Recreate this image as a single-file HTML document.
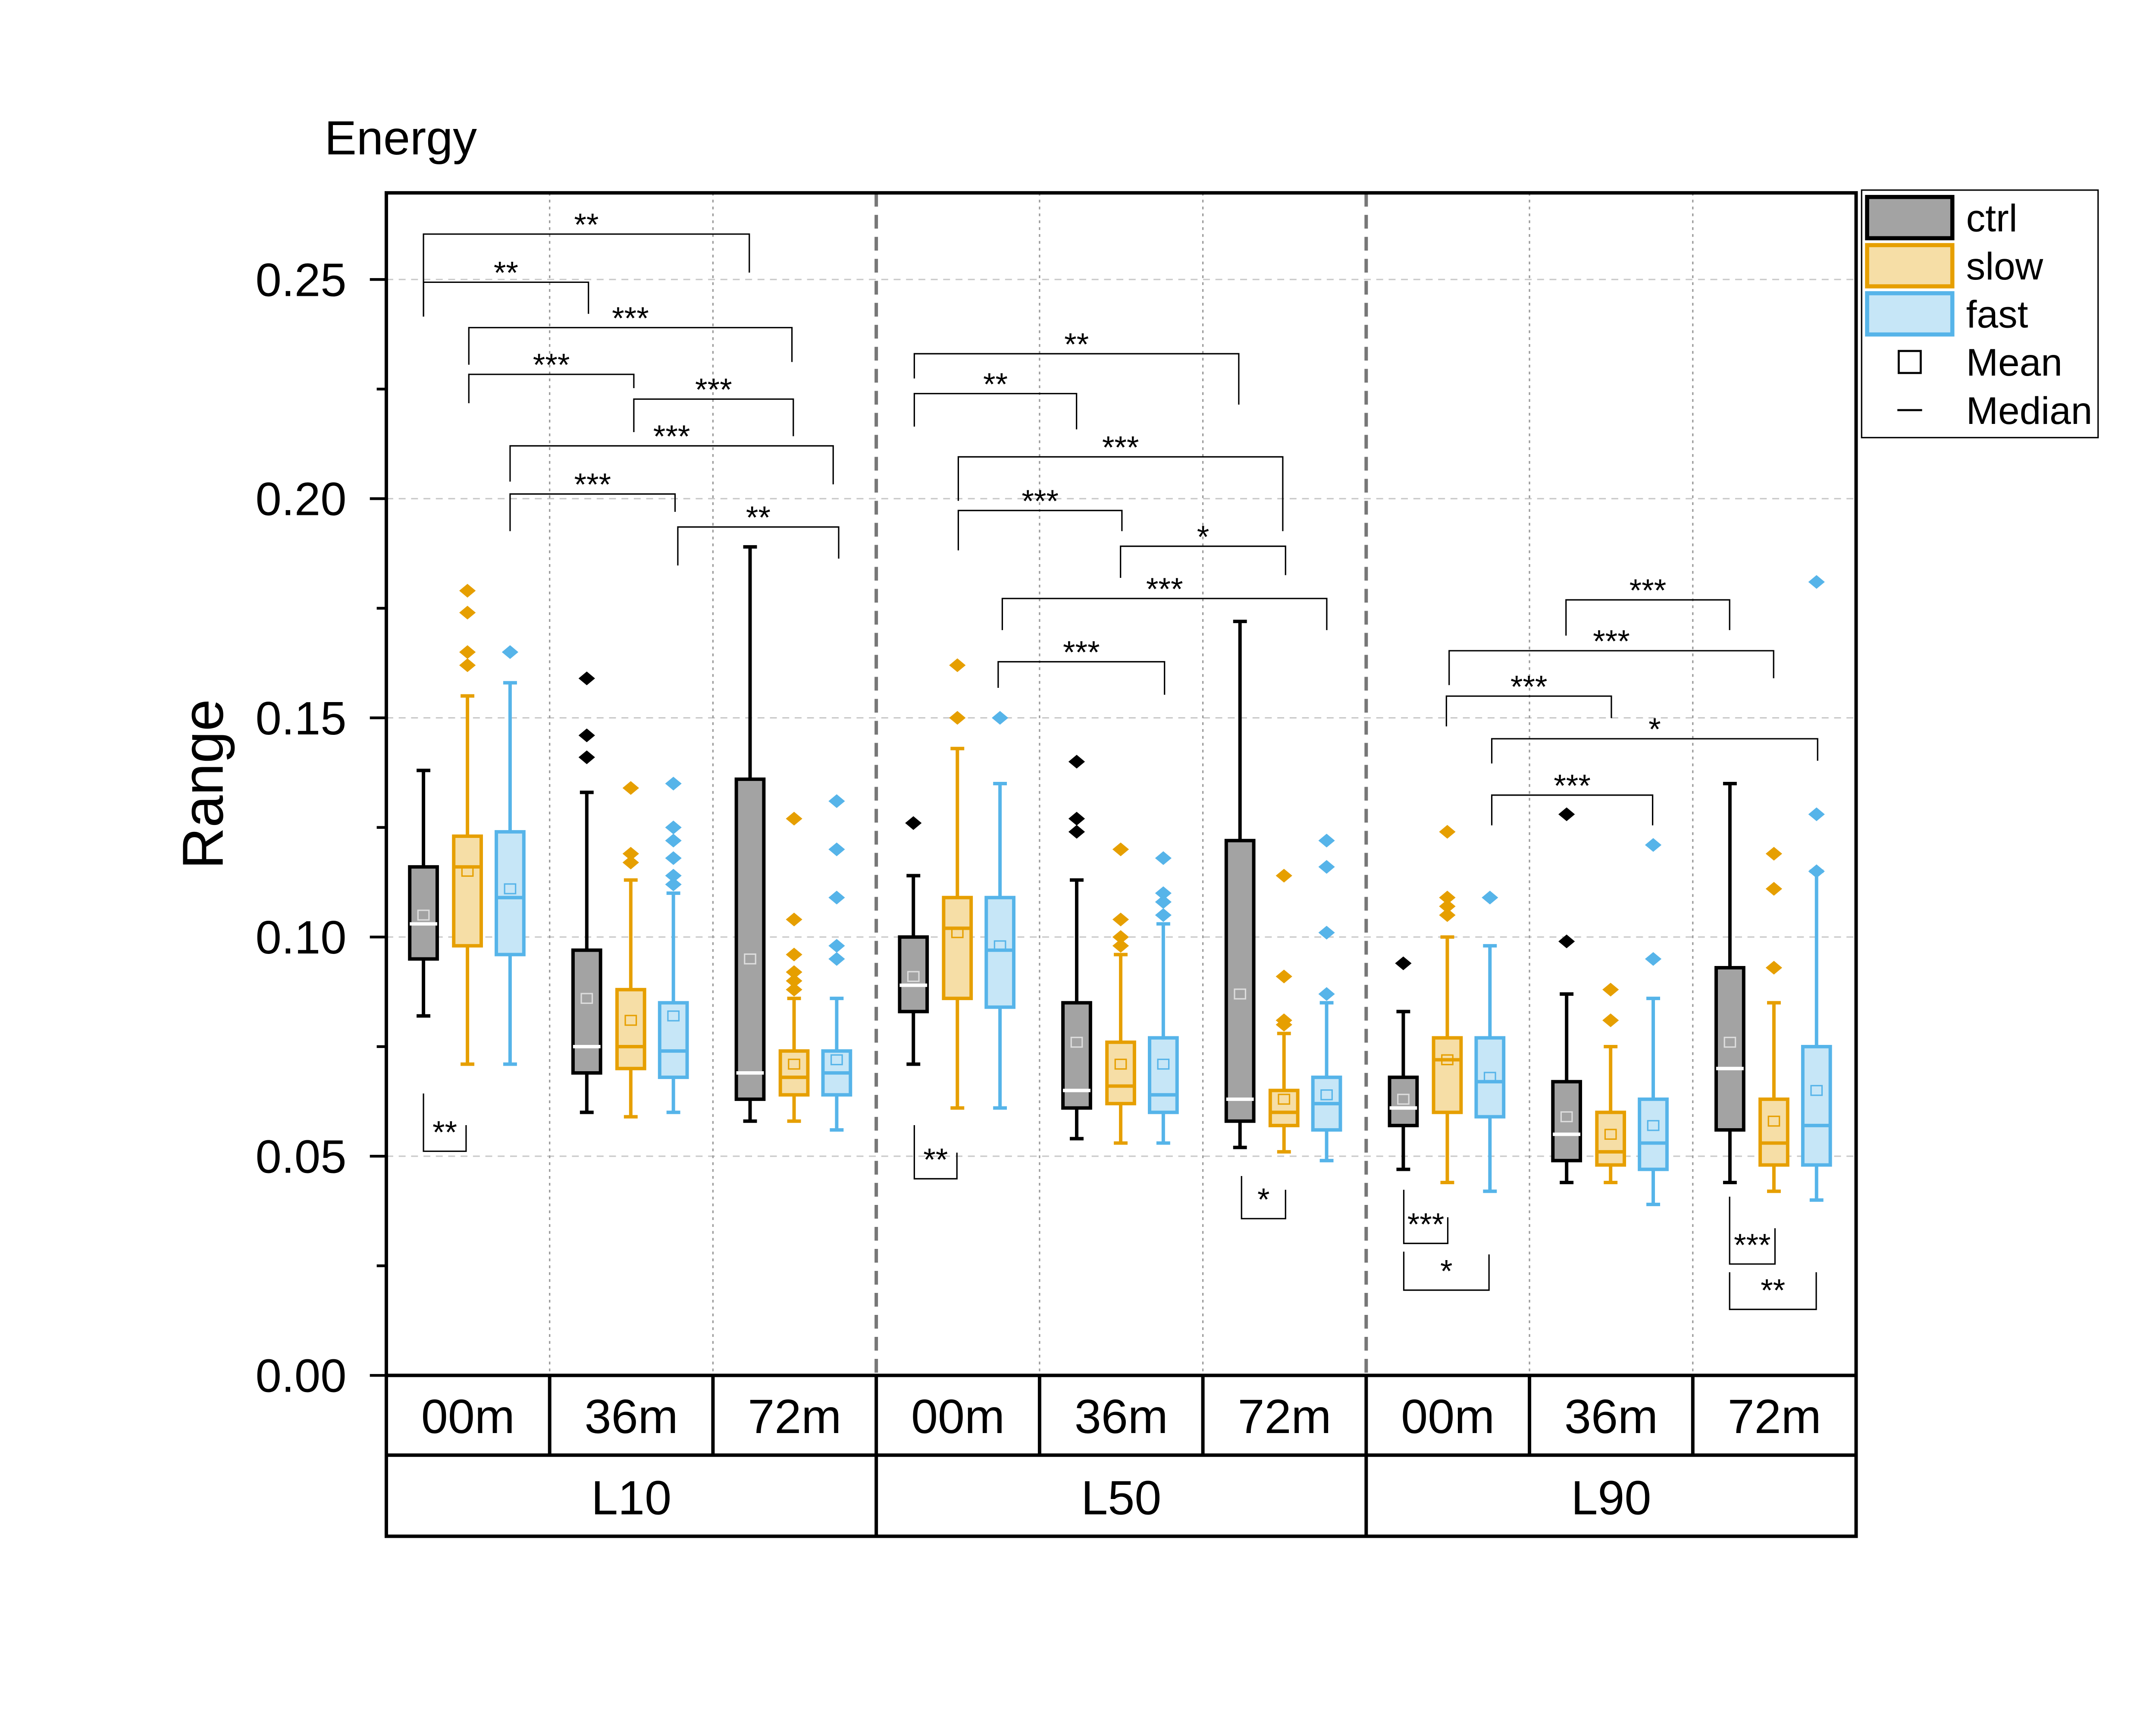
<!DOCTYPE html>
<html><head><meta charset="utf-8"><style>
html,body{margin:0;padding:0;background:#fff}
svg{display:block}
text{font-family:"Liberation Sans",Arial,sans-serif}
</style></head><body>
<svg id="chart" width="5226" height="4000" viewBox="0 0 1639 1254" xmlns="http://www.w3.org/2000/svg">
<rect width="1639" height="1254" fill="#fff"/>
<g id="grid"></g>
<g id="boxes"></g>
<g id="sig"></g>
<g id="axes"></g>
</svg>
<script>
const NS="http://www.w3.org/2000/svg";
// ---- data ----
const groups=["L10","L50","L90"];
const times=["00m","36m","72m"];
const seriesNames=["ctrl","slow","fast"];
const yTicks=[0,0.05,0.10,0.15,0.20,0.25];
const yTickLabels=["0.00","0.05","0.10","0.15","0.20","0.25"];
// each box: [whiskerLow, q1, median, q3, whiskerHigh, mean]
const ctrlStats=[
[0.082,0.095,0.103,0.116,0.138,0.105],[0.060,0.069,0.075,0.097,0.133,0.086],[0.058,0.063,0.069,0.136,0.189,0.095],
[0.071,0.083,0.089,0.100,0.114,0.091],[0.054,0.061,0.065,0.085,0.113,0.076],[0.052,0.058,0.063,0.122,0.172,0.087],
[0.047,0.057,0.061,0.068,0.083,0.063],[0.044,0.049,0.055,0.067,0.087,0.059],[0.044,0.056,0.070,0.093,0.135,0.076]];
const slowStats=[
[0.071,0.098,0.116,0.123,0.155,0.115],[0.059,0.070,0.075,0.088,0.113,0.081],[0.058,0.064,0.068,0.074,0.086,0.071],
[0.061,0.086,0.102,0.109,0.143,0.101],[0.053,0.062,0.066,0.076,0.096,0.071],[0.051,0.057,0.060,0.065,0.078,0.063],
[0.044,0.060,0.072,0.077,0.100,0.072],[0.044,0.048,0.051,0.060,0.075,0.055],[0.042,0.048,0.053,0.063,0.085,0.058]];
const fastStats=[
[0.071,0.096,0.109,0.124,0.158,0.111],[0.060,0.068,0.074,0.085,0.110,0.082],[0.056,0.064,0.069,0.074,0.086,0.072],
[0.061,0.084,0.097,0.109,0.135,0.098],[0.053,0.060,0.064,0.077,0.103,0.071],[0.049,0.056,0.062,0.068,0.085,0.064],
[0.042,0.059,0.067,0.077,0.098,0.068],[0.039,0.047,0.053,0.063,0.086,0.057],[0.040,0.048,0.057,0.075,0.115,0.065]];
const ctrlOut=[[],[0.159,0.146,0.141],[],[0.126],[0.140,0.127,0.124],[],[0.094],[0.128,0.099],[]];
const slowOut=[[0.179,0.174,0.165,0.162],[0.134,0.119,0.117],[0.127,0.104,0.096,0.092,0.090,0.088],[0.162,0.150],[0.120,0.104,0.100,0.098],[0.114,0.091,0.081,0.080],[0.124,0.109,0.107,0.105],[0.088,0.081],[0.119,0.111,0.093]];
const fastOut=[[0.165],[0.135,0.125,0.122,0.118,0.114,0.112],[0.131,0.120,0.109,0.098,0.095],[0.150],[0.118,0.110,0.108,0.105],[0.122,0.116,0.101,0.087],[0.109],[0.121,0.095],[0.181,0.128,0.115]];
// ---- layout ----
const X0=281,X1=1350,Y0=1000,Y1=140,colW=(X1-X0)/9;
const y=v=>Y0-v*3188;
const colX=i=>X0+i*colW;
const offs=[27,59,90],BW=20;
const fills=["#a3a3a3","#f6dea6","#c6e6f7"],strokes=["#000","#e69f00","#56b4e9"],meds=["#fff","#e69f00","#56b4e9"],means=["#ddd","#e69f00","#56b4e9"];
function el(p,tag,a,txt){const e=document.createElementNS(NS,tag);for(const k in a)e.setAttribute(k,a[k]);if(txt!=null)e.textContent=txt;p.appendChild(e);return e;}
const G=document.getElementById("grid"),B=document.getElementById("boxes"),S=document.getElementById("sig"),A=document.getElementById("axes");
// grid
yTicks.forEach(t=>{if(t>0){const l=el(G,"line",{x1:X0,x2:X1,y1:y(t),y2:y(t),stroke:"#c8c8c8","stroke-width":1,"stroke-dasharray":"5,4"});

}});
for(let i=1;i<9;i++){const thick=(i%3==0);const l=el(G,"line",{x1:colX(i),x2:colX(i),y1:Y1,y2:Y0,stroke:thick?"#777":"#999","stroke-width":thick?2.5:1,"stroke-dasharray":thick?"10,6":"2,3"});

}
// boxes
const allStats=[ctrlStats,slowStats,fastStats],allOut=[ctrlOut,slowOut,fastOut];
for(let c=0;c<9;c++)for(let s=0;s<3;s++){
 const st=allStats[s][c],cx=colX(c)+offs[s];
 const g=el(B,"g",{});
 
 
 const sw=2.5;
 el(g,"line",{x1:cx,x2:cx,y1:y(st[0]),y2:y(st[1]),stroke:strokes[s],"stroke-width":sw});
 el(g,"line",{x1:cx,x2:cx,y1:y(st[3]),y2:y(st[4]),stroke:strokes[s],"stroke-width":sw});
 el(g,"line",{x1:cx-5,x2:cx+5,y1:y(st[0]),y2:y(st[0]),stroke:strokes[s],"stroke-width":sw});
 el(g,"line",{x1:cx-5,x2:cx+5,y1:y(st[4]),y2:y(st[4]),stroke:strokes[s],"stroke-width":sw});
 el(g,"rect",{x:cx-BW/2,y:y(st[3]),width:BW,height:y(st[1])-y(st[3]),fill:fills[s],stroke:strokes[s],"stroke-width":sw});
 el(g,"line",{x1:cx-BW/2,x2:cx+BW/2,y1:y(st[2]),y2:y(st[2]),stroke:meds[s],"stroke-width":2.5});
 el(g,"rect",{x:cx-4,y:y(st[5])-3.5,width:8,height:7,fill:"none",stroke:means[s],"stroke-width":1});
 allOut[s][c].forEach(v=>{const d=el(g,"path",{d:`M${cx},${y(v)-5}L${cx+6},${y(v)}L${cx},${y(v)+5}L${cx-6},${y(v)}Z`,fill:s==0?"#000":(s==1?"#e69f00":"#56b4e9")});
 
 });
}
// significance brackets (annotation layout): x1,x2,yLine,yLeftEnd,yRightEnd,label
const brackets=[
[308,545,170,230,198,"**"],[308,428,205,230,228,"**"],[341,576,238,265,263,"***"],[341,461,272,293,282,"***"],
[461,577,290,314,317,"***"],[371,606,324,350,352,"***"],[371,491,359,386,372,"***"],[493,610,383,411,406,"**"],
[308,339,837,795,818,"**"],
[665,901,257,275,294,"**"],[665,783,286,310,312,"**"],[697,933,332,364,386,"***"],[697,816,371,400,386,"***"],
[815,935,397,420,418,"*"],[729,965,435,458,458,"***"],[726,847,481,500,505,"***"],
[665,696,857,818,838,"**"],[903,935,886,855,865,"*"],
[1139,1258,436,462,458,"***"],[1054,1290,473,498,493,"***"],[1052,1172,506,528,522,"***"],[1085,1322,537,555,553,"*"],
[1085,1202,578,600,600,"***"],[1021,1053,904,865,885,"***"],[1021,1083,938,910,912,"*"],[1258,1291,919,870,893,"***"],[1258,1321,952,925,925,"**"]];
brackets.forEach(b=>{const g=el(S,"g",{});
 
 
 el(g,"path",{d:`M${b[0]},${b[3]}L${b[0]},${b[2]}L${b[1]},${b[2]}L${b[1]},${b[4]}`,fill:"none",stroke:"#000","stroke-width":1});
 const below=b[3]<b[2];
 el(g,"text",{x:(b[0]+b[1])/2,y:below?b[2]-6:b[2]+1,"text-anchor":"middle","font-size":23},b[5]);});
// axes
const frame=el(A,"rect",{x:X0,y:Y1,width:X1-X0,height:Y0-Y1,fill:"none",stroke:"#000","stroke-width":2.5});

yTicks.forEach((t,i)=>{el(A,"line",{x1:X0-12,x2:X0,y1:y(t),y2:y(t),stroke:"#000","stroke-width":2});
 const tx=el(A,"text",{x:252,y:y(t)+12,"text-anchor":"end","font-size":34},yTickLabels[i]);
 
 if(i<yTicks.length-1)el(A,"line",{x1:X0-7,x2:X0,y1:y(t+0.025),y2:y(t+0.025),stroke:"#000","stroke-width":2});});
const yt=el(A,"text",{x:0,y:0,transform:"translate(162,570) rotate(-90)","text-anchor":"middle","font-size":42},"Range");

const tt=el(A,"text",{x:236,y:112,"font-size":35},"Energy");

// table
el(A,"path",{d:`M${X0},1000V1117H${X1}V1000M${X0},1058H${X1}`,fill:"none",stroke:"#000","stroke-width":2.5});
for(let i=1;i<9;i++)el(A,"line",{x1:colX(i),x2:colX(i),y1:1000,y2:i%3==0?1117:1058,stroke:"#000","stroke-width":2.5});
for(let i=0;i<9;i++){const t=el(A,"text",{x:colX(i)+colW/2,y:1042,"text-anchor":"middle","font-size":35},times[i%3]);
 }
groups.forEach((g,i)=>{const t=el(A,"text",{x:colX(i*3)+colW*1.5,y:1101,"text-anchor":"middle","font-size":35},g);
 });
// legend
const L=el(A,"g",{});

el(L,"rect",{x:1354,y:138,width:172,height:180,fill:"#fff",stroke:"#000","stroke-width":1});
seriesNames.forEach((n,i)=>{const e=el(L,"g",{});
 
 el(e,"rect",{x:1358,y:143+i*35,width:62,height:30,fill:fills[i],stroke:strokes[i],"stroke-width":3});
 el(e,"text",{x:1430,y:168+i*35,"font-size":28},n);});
el(L,"rect",{x:1381,y:255,width:16,height:16,fill:"none",stroke:"#000","stroke-width":1.5});
el(L,"text",{x:1430,y:273,"font-size":28},"Mean");
el(L,"line",{x1:1380,x2:1398,y1:298,y2:298,stroke:"#000","stroke-width":1.5});
el(L,"text",{x:1430,y:308,"font-size":28},"Median");
</script>
</body></html>
